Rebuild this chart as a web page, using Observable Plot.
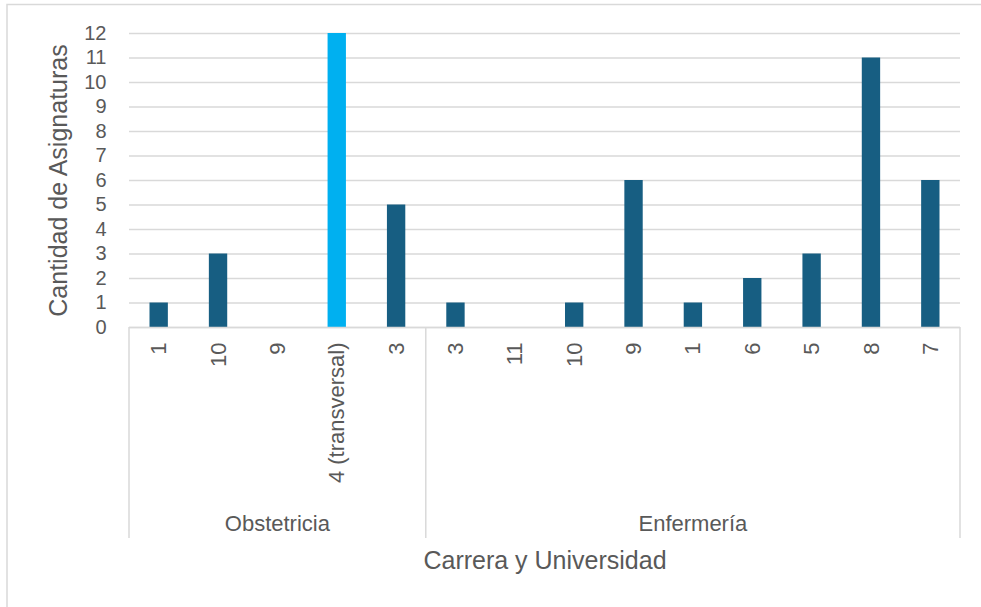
<!DOCTYPE html>
<html>
<head>
<meta charset="utf-8">
<script src="https://cdn.jsdelivr.net/npm/d3@7"></script>
<script src="https://cdn.jsdelivr.net/npm/@observablehq/plot@0.6"></script>
<style>
  html, body { margin: 0; padding: 0; background: #ffffff; }
  #chart { width: 981px; height: 607px; }
</style>
</head>
<body>
<div id="chart"></div>
<script>
// ---- Data ----
const groups = ["Obstetricia", "Enfermería"];
const obstetriciaLabels = ["1", "10", "9", "4 (transversal)", "3"];
const obstetriciaValues = [1, 3, 0, 12, 5];
const enfermeriaLabels = ["3", "11", "10", "9", "1", "6", "5", "8", "7"];
const enfermeriaValues = [1, 0, 1, 6, 1, 2, 3, 11, 6];
const highlighted = "Obstetricia|4 (transversal)";
const yTicks = [0, 1, 2, 3, 4, 5, 6, 7, 8, 9, 10, 11, 12];
const yTitle = "Cantidad de Asignaturas";
const xTitle = "Carrera y Universidad";

// ---- Table ----
const data = [
  ...obstetriciaLabels.map((l, i) => ({group: groups[0], label: l, value: obstetriciaValues[i]})),
  ...enfermeriaLabels.map((l, i) => ({group: groups[1], label: l, value: enfermeriaValues[i]}))
].map(d => ({...d, key: d.group + "|" + d.label}));
const keys = data.map(d => d.key);
const labelOf = new Map(data.map(d => [d.key, d.label]));
const groupKeys = groups.map(g => data.filter(d => d.group === g).map(d => d.key));

const FONT = "'Liberation Sans', Arial, sans-serif";
const TEXT = "#595959";
const GRID = "#D9D9D9";
const DARK = "#175E82";
const LIGHT = "#00B0F0";

// outer chart border (top and left edges visible)
function borderMark(index, scales, values, dims) {
  const g = d3.create("svg:g");
  g.append("path")
    .attr("d", `M7,${dims.height} V4.5 H${dims.width}`)
    .attr("fill", "none").attr("stroke", GRID).attr("stroke-width", 1.5);
  return g.node();
}

// category group separators and group labels
function groupAxisMark(index, {x, y}, values, dims) {
  const bw = typeof x.bandwidth === "function" ? x.bandwidth() : x.bandwidth;
  const g = d3.create("svg:g");
  const y0 = y(0);
  const y1 = dims.height - 69;
  const bounds = [x(groupKeys[0][0]), ...groupKeys.map(ks => x(ks[ks.length - 1]) + bw)];
  for (const bx of bounds) {
    g.append("line").attr("x1", bx).attr("x2", bx).attr("y1", y0).attr("y2", y1)
      .attr("stroke", GRID).attr("stroke-width", 1.5);
  }
  groups.forEach((name, i) => {
    const ks = groupKeys[i];
    const cx = (x(ks[0]) + x(ks[ks.length - 1]) + bw) / 2;
    g.append("text").attr("x", cx).attr("y", y0 + 196).attr("dy", "0.35em")
      .attr("text-anchor", "middle").attr("fill", TEXT)
      .attr("font-family", FONT).attr("font-size", 22).text(name);
  });
  return g.node();
}

const chart = Plot.plot({
  width: 981,
  height: 607,
  marginLeft: 129,
  marginRight: 21,
  marginTop: 33,
  marginBottom: 280,
  style: {fontFamily: FONT, color: TEXT, background: "#ffffff", overflow: "visible"},
  x: {domain: keys, padding: 0, round: false, axis: null},
  y: {domain: [0, 12], axis: null},
  marks: [
    borderMark,
    Plot.gridY(yTicks, {stroke: GRID, strokeOpacity: 1, strokeWidth: 1.5}),
    Plot.axisY(yTicks, {tickSize: 0, tickPadding: 23, fontSize: 20, label: null, fill: TEXT}),
    Plot.barY(data, {
      x: "key", y: "value",
      fill: d => d.key === highlighted ? LIGHT : DARK,
      insetLeft: 20.5, insetRight: 20.5
    }),
    Plot.ruleY([0], {stroke: GRID, strokeWidth: 1.5}),
    Plot.axisX({
      tickSize: 0, tickRotate: -90, tickPadding: 15, fontSize: 22,
      tickFormat: k => labelOf.get(k), label: null, fill: TEXT
    }),
    groupAxisMark,
    Plot.text([yTitle], {frameAnchor: "left", textAnchor: "middle", lineAnchor: "middle", rotate: -90, dx: -71, fontSize: 25, fill: TEXT}),
    Plot.text([xTitle], {frameAnchor: "bottom", textAnchor: "middle", lineAnchor: "middle", dy: 233, fontSize: 25, fill: TEXT})
  ]
});

document.getElementById("chart").appendChild(chart);
</script>
</body>
</html>
